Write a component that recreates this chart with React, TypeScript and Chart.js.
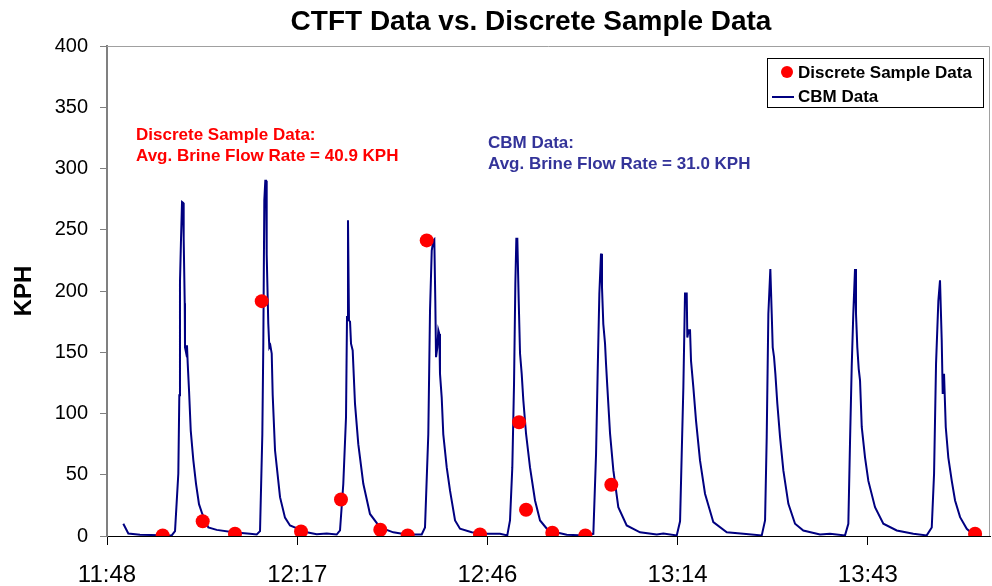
import React, { useEffect, useRef } from "react";
import { Chart, registerables } from "chart.js";

Chart.register(...registerables);

// ---------- text ----------
const TITLE = "CTFT Data vs. Discrete Sample Data";
const Y_TITLE = "KPH";
const DISCRETE_LABEL = "Discrete Sample Data";
const CBM_LABEL = "CBM Data";
const DISCRETE_NOTE = ["Discrete Sample Data:", "Avg. Brine Flow Rate = 40.9 KPH"];
const CBM_NOTE = ["CBM Data:", "Avg. Brine Flow Rate = 31.0 KPH"];

// ---------- axes ----------
// x values are minutes elapsed since 11:48
const xTickMinutes = [0, 28.8, 57.6, 86.4, 115.2];
const xTickLabels = ["11:48", "12:17", "12:46", "13:14", "13:43"];
const X_MAX_MINUTES = 133.7;
const Y_MIN = 0;
const Y_MAX = 400;
const Y_STEP = 50;

// ---------- discrete samples ----------
const discreteMinutes = [
  8.43, 14.49, 19.38, 23.43, 29.38, 35.43, 41.38, 45.53, 48.41, 56.48, 62.39,
  63.45, 67.43, 72.43, 76.36, 131.44,
];
const discreteValues = [
  0.5, 12.1, 1.8, 191.7, 3.7, 29.8, 5.1, 0.4, 241.3, 1.2, 92.9, 21.4, 2.6, 0.4,
  41.8, 1.8,
];

// ---------- CBM continuous data ----------
const cbmMinutes = [
  2.47, 3.23, 5.0, 9.8, 10.3, 10.8, 10.95, 11.05, 11.21, 11.36, 11.51, 11.61,
  11.77, 11.81, 11.96, 12.11, 12.22, 12.42, 12.68, 13.07, 13.48, 13.93, 14.43,
  15.34, 16.61, 19.12, 21.65, 22.67,
  23.17, 23.52, 23.67, 23.82, 23.97, 24.08, 24.18, 24.42, 24.58, 24.73, 24.94,
  25.09, 25.44, 26.2, 26.95, 27.71, 30.24, 31.75, 33.27, 34.78,
  35.28, 35.78, 36.19, 36.34, 36.49, 36.64, 36.8, 36.95, 37.2, 37.55, 38.05,
  38.81, 39.82, 41.34, 43.35, 45.38, 47.65,
  48.15, 48.65, 48.91, 49.17, 49.41, 49.56, 49.71, 49.82, 50.02, 50.17, 50.32,
  50.42, 50.68, 50.92, 51.44, 51.94, 52.7, 53.45, 55.22, 57.5, 59.51, 60.61,
  61.02, 61.37, 61.63, 61.83, 61.98, 62.13, 62.34, 62.54, 62.79, 63.04, 63.45,
  64.05, 64.81, 65.57, 66.82, 69.61, 72.38, 73.64,
  74.05, 74.3, 74.55, 74.8, 74.95, 75.15, 75.41, 75.56, 75.76, 76.17, 76.67,
  77.42, 78.69, 80.71, 83.24, 84.24, 86.27,
  86.77, 87.02, 87.27, 87.52, 87.78, 87.87, 88.08, 88.28, 88.43, 88.78, 89.19,
  89.79, 90.55, 91.81, 93.84, 96.35, 99.14,
  99.64, 99.89, 100.14, 100.44, 100.65, 100.8, 101.0, 101.2, 101.5, 101.91,
  102.41, 103.17, 104.18, 105.43, 107.96, 109.47, 111.75,
  112.25, 112.51, 112.76, 113.0, 113.26, 113.41, 113.61, 113.82, 114.02, 114.28,
  114.78, 115.28, 116.29, 117.55, 119.58, 122.09, 124.12,
  124.88, 125.23, 125.53, 125.88, 126.13, 126.39, 126.54, 126.74, 127.0, 127.39,
  127.91, 128.41, 129.17, 130.18, 130.94,
];
const cbmValues = [
  10, 2, 1, 0.5, 4, 51, 115, 207, 243, 272.6, 272, 243,
  190, 154, 150, 155.6, 141, 119, 86, 62, 42.6, 26, 18,
  7, 5, 3, 1.8, 1.2,
  4, 83, 158, 274, 290, 290, 230, 173.5, 154, 155.6, 149,
  115, 70, 31.7, 15, 8.6, 3, 1.5, 2, 1.2,
  4.5, 42.6, 97, 178.7, 257.7, 176, 175, 157, 151.5, 108, 75,
  42.6, 18, 7, 3, 1.2, 1.2,
  7, 83, 184, 233, 241, 242, 192, 146, 154, 168, 165,
  132.5, 113, 83, 56, 37, 12.7, 5.9, 3, 1.8, 1.8, 0.5,
  12.7, 56, 124, 206, 242.7, 242.7, 192, 149, 132.5, 110.7, 83.5,
  56, 29, 12.7, 4.5, 1, 0.5, 1.8,
  67, 135, 198, 230.5, 203, 173, 157, 140.6, 121.5, 83.5, 53.5,
  23.5, 8.6, 3, 1.2, 2, 0.5,
  12, 67, 121.5, 198, 198, 162, 168, 168, 143, 121.5, 94,
  61.7, 34.5, 11.3, 3, 1.8, 0.5,
  12.7, 80.7, 181.5, 218, 181.5, 154, 146, 132.5, 108, 80.7,
  53.5, 26.3, 10, 4.5, 1.2, 1.8, 0.5,
  10, 78, 138, 181.5, 218, 181.5, 154, 136.5, 127, 89,
  64, 45, 23.5, 10, 4.5, 1.8, 0.5,
  7, 50.8, 140.6, 192, 208.7, 159.7, 116, 132.5, 89, 64,
  45, 29, 15.4, 5.9, 2.3,
];

// ---------- styles ----------
const FONT = "'Liberation Sans', Arial, Helvetica, sans-serif";
const RED = "#FF0000";
const NAVY = "#000080";
const NOTE_BLUE = "#333399";

const overlayPlugin = {
  id: "overlay",
  beforeDatasetsDraw(chart: any) {
    const { ctx, chartArea } = chart;
    const { left, right, top, bottom } = chartArea;
    ctx.save();
    ctx.strokeStyle = "#a0a0a0";
    ctx.lineWidth = 1;
    ctx.beginPath();
    ctx.moveTo(left, top + 0.5);
    ctx.lineTo(right - 0.5, top + 0.5);
    ctx.lineTo(right - 0.5, bottom);
    ctx.stroke();
    ctx.restore();
  },
  afterDraw(chart: any) {
    const { ctx } = chart;
    ctx.save();
    // title
    ctx.fillStyle = "#000";
    ctx.font = `bold 28px ${FONT}`;
    ctx.textAlign = "center";
    ctx.textBaseline = "alphabetic";
    ctx.fillText(TITLE, 531, 30);

    // notes
    ctx.textAlign = "left";
    ctx.font = `bold 17px ${FONT}`;
    ctx.fillStyle = RED;
    ctx.fillText(DISCRETE_NOTE[0], 136, 140);
    ctx.fillText(DISCRETE_NOTE[1], 136, 160.5);
    ctx.fillStyle = NOTE_BLUE;
    ctx.fillText(CBM_NOTE[0], 488, 148);
    ctx.fillText(CBM_NOTE[1], 488, 169);

    // legend
    const ds = chart.data.datasets;
    ctx.fillStyle = "#fff";
    ctx.fillRect(767, 58, 216, 49);
    ctx.strokeStyle = "#000";
    ctx.lineWidth = 1;
    ctx.strokeRect(767.5, 58.5, 216, 49);
    ctx.fillStyle = ds[0].backgroundColor;
    ctx.beginPath();
    ctx.arc(787, 72, 6, 0, Math.PI * 2);
    ctx.fill();
    ctx.strokeStyle = ds[1].borderColor;
    ctx.lineWidth = 2;
    ctx.beginPath();
    ctx.moveTo(772, 97);
    ctx.lineTo(794, 97);
    ctx.stroke();
    ctx.fillStyle = "#000";
    ctx.font = `bold 17px ${FONT}`;
    ctx.textBaseline = "alphabetic";
    ctx.fillText(ds[0].label, 798, 78);
    ctx.fillText(ds[1].label, 798, 102);
    ctx.restore();
  },
};

export default function App() {
  const canvasRef = useRef<HTMLCanvasElement | null>(null);

  useEffect(() => {
    if (!canvasRef.current) return;
    const discretePoints = discreteMinutes.map((m, i) => ({ x: m, y: discreteValues[i] }));
    const cbmPoints = cbmMinutes.map((m, i) => ({ x: m, y: cbmValues[i] }));

    const chart = new Chart(canvasRef.current, {
      type: "scatter",
      data: {
        datasets: [
          {
            type: "scatter",
            label: DISCRETE_LABEL,
            data: discretePoints,
            backgroundColor: RED,
            borderColor: RED,
            pointRadius: 7,
            pointBorderWidth: 0,
          },
          {
            type: "line",
            label: CBM_LABEL,
            data: cbmPoints,
            borderColor: NAVY,
            backgroundColor: NAVY,
            borderWidth: 2,
            pointRadius: 0,
            tension: 0,
            fill: false,
          } as any,
        ],
      },
      options: {
        responsive: false,
        animation: false,
        devicePixelRatio: 1,
        layout: { autoPadding: false, padding: { left: 0, right: 2, top: 46, bottom: 0 } },
        plugins: {
          legend: { display: false },
          title: { display: false },
          tooltip: { enabled: false },
        },
        scales: {
          x: {
            type: "linear",
            min: 0,
            max: X_MAX_MINUTES,
            afterBuildTicks: (scale: any) => {
              scale.ticks = xTickMinutes.map((v) => ({ value: v }));
            },
            afterFit: (scale: any) => {
              scale.height = 50;
              scale.paddingLeft = 0;
              scale.paddingRight = 0;
            },
            ticks: {
              autoSkip: false,
              maxRotation: 0,
              minRotation: 0,
              padding: 16,
              color: "#000",
              font: { family: FONT, size: 24 },
              callback: (_v: any, i: number) => xTickLabels[i] ?? "",
            },
            grid: {
              drawOnChartArea: false,
              drawTicks: true,
              tickLength: 9,
              tickColor: "#000",
            },
            border: { display: true, color: "#000", width: 1 },
          },
          y: {
            type: "linear",
            min: Y_MIN,
            max: Y_MAX,
            afterFit: (scale: any) => {
              scale.width = 107;
            },
            ticks: {
              stepSize: Y_STEP,
              padding: 12,
              color: "#000",
              font: { family: FONT, size: 20 },
            },
            grid: {
              drawOnChartArea: false,
              drawTicks: true,
              tickLength: 7,
              tickColor: "#808080",
            },
            border: { display: true, color: "#808080", width: 2 },
            title: {
              display: true,
              text: Y_TITLE,
              color: "#000",
              font: { family: FONT, size: 24, weight: "bold" },
              padding: { top: 10, bottom: 0 },
            },
          },
        },
      },
      plugins: [overlayPlugin],
    });
    return () => chart.destroy();
  }, []);

  return (
    <div style={{ position: "absolute", left: 0, top: 0, width: 992, height: 586, background: "#fff" }}>
      <canvas ref={canvasRef} width={992} height={586} />
    </div>
  );
}
